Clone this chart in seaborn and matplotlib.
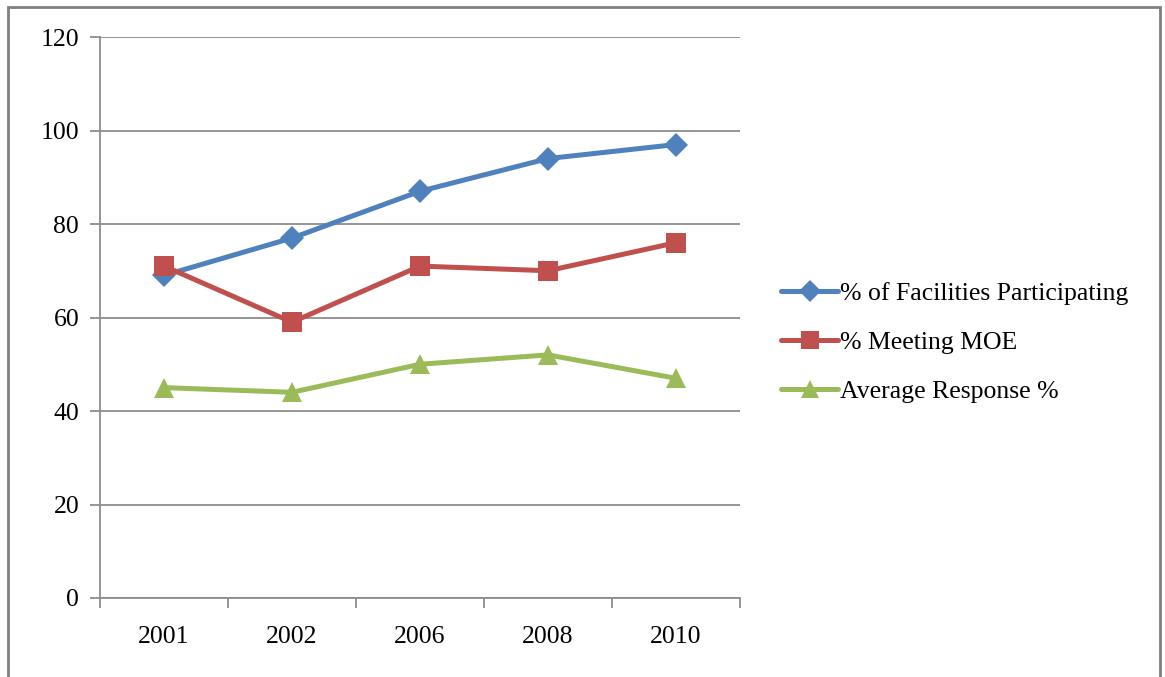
import matplotlib
matplotlib.use("Agg")
import matplotlib.pyplot as plt
from matplotlib.patches import Rectangle
from matplotlib.lines import Line2D
import seaborn as sns
import pandas as pd

years = ["2001", "2002", "2006", "2008", "2010"]
facilities_participating = [69, 77, 87, 94, 97]
meeting_moe = [71, 59, 71, 70, 76]
average_response = [45, 44, 50, 52, 47]

series_names = ["% of Facilities Participating", "% Meeting MOE", "Average Response %"]
series_values = [facilities_participating, meeting_moe, average_response]
colors = ["#4F81BD", "#C0504D", "#9BBB59"]
markers = ["D", "s", "^"]
marker_sizes = [12.5, 14, 15]

rows = []
for name, vals in zip(series_names, series_values):
    for yr, v in zip(years, vals):
        rows.append({"Year": yr, "Series": name, "Value": v})
df = pd.DataFrame(rows)

sns.set_theme(style="white")
plt.rcParams["font.family"] = ["Liberation Serif", "DejaVu Serif"]
plt.rcParams["text.color"] = "black"

W, H = 1165, 677
fig = plt.figure(figsize=(W / 100, H / 100), dpi=100)
ax = fig.add_axes([100 / W, 1 - 598 / H, 640 / W, 561 / H])

for name, color, mk, ms in zip(series_names, colors, markers, marker_sizes):
    sub = df[df["Series"] == name]
    sns.lineplot(data=sub, x="Year", y="Value", ax=ax, color=color, lw=3.6,
                 marker=mk, markersize=ms, markeredgewidth=0, legend=False,
                 sort=False)

grid_c = "#8C8C8C"
ax.set_ylim(0, 120)
ax.set_yticks(range(0, 121, 20))
ax.set_xlim(-0.5, 4.5)
ax.set_xticks(range(len(years)))
ax.set_xticklabels(years)
ax.set_xticks([i - 0.5 for i in range(len(years) + 1)], minor=True)
ax.yaxis.grid(True, color=grid_c, lw=1.3)
ax.set_axisbelow(True)
ax.set_xlabel("")
ax.set_ylabel("")
for side in ["top", "right"]:
    ax.spines[side].set_visible(False)
for side in ["left", "bottom"]:
    ax.spines[side].set_color(grid_c)
    ax.spines[side].set_linewidth(1.3)
ax.tick_params(axis="y", which="major", left=True, length=7, width=1.3,
               color=grid_c, labelsize=18.5, pad=8, labelcolor="black")
ax.tick_params(axis="x", which="major", bottom=False, labelsize=18.5, pad=14,
               labelcolor="black")
ax.tick_params(axis="x", which="minor", bottom=True, length=7, width=1.3,
               color=grid_c)

handles = [Line2D([0], [0], color=c, lw=3.6, marker=m, markersize=s * 0.9,
                  markeredgewidth=0)
           for c, m, s in zip(colors, markers, marker_sizes)]
fig.legend(handles, series_names, loc="upper left",
           bbox_to_anchor=(771 / W, 1 - 272 / H), frameon=False,
           fontsize=18.5, handlelength=2.2, handletextpad=0.1,
           labelspacing=1.0, borderaxespad=0, labelcolor="black")

fig.patches.append(Rectangle((8 / W, -0.05), 1152 / W, 1.05 - 7 / H,
                             transform=fig.transFigure, fill=False,
                             edgecolor="#7F7F7F", lw=2.0))

fig.savefig("out.png", dpi=100)
